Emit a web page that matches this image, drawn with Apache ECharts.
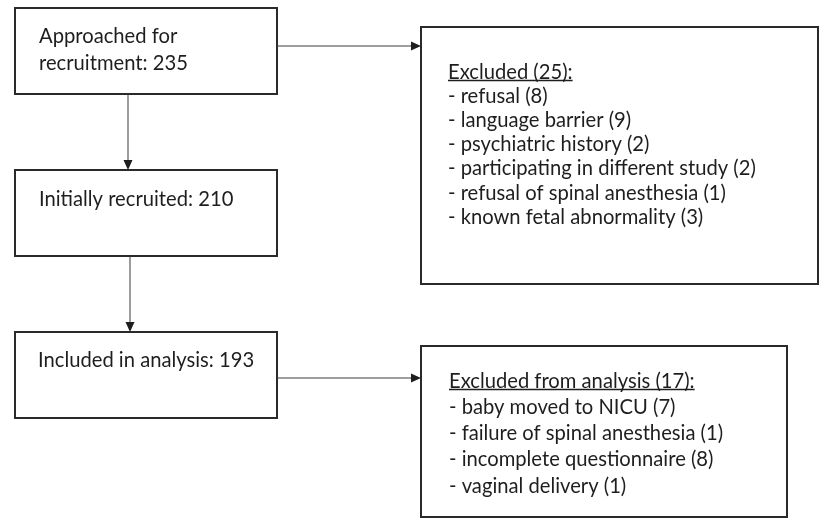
<!DOCTYPE html>
<html>
<head>
<meta charset="utf-8">
<script src="https://cdn.jsdelivr.net/npm/echarts@6/dist/echarts.min.js"></script>
<style>
  html, body { margin: 0; padding: 0; background: #fff; }
  #main { width: 819px; height: 519px; }
</style>
</head>
<body>
<div id="main"></div>
<script>
// flow stages and their counts
const stageNames = ['Approached for\nrecruitment', 'Initially recruited', 'Included in analysis']
const stageCounts = [235, 210, 193]

// first exclusion box
const excludedTitle = 'Excluded'
const excludedReasons = ['refusal', 'language barrier', 'psychiatric history',
  'participating in different study', 'refusal of spinal anesthesia', 'known fetal abnormality']
const excludedCounts = [8, 9, 2, 2, 1, 3]

// second exclusion box
const analysisTitle = 'Excluded from analysis'
const analysisReasons = ['baby moved to NICU', 'failure of spinal anesthesia',
  'incomplete questionnaire', 'vaginal delivery']
const analysisCounts = [7, 1, 8, 1]

const sum = arr => arr.reduce((a, b) => a + b, 0)

const FONT_SIZE = 20.2
const FONT = FONT_SIZE + 'px Lato, "Open Sans", sans-serif'
const TEXT_COLOR = '#1e1e1e'
const LINE_COLOR = '#2a2a2a'

// text content of each box (first line underlined when title is set)
const boxText = [
  { lines: (stageNames[0] + ': ' + stageCounts[0]).split('\n') },
  { lines: [stageNames[1] + ': ' + stageCounts[1]] },
  { lines: [stageNames[2] + ': ' + stageCounts[2]] },
  { title: true, lines: [excludedTitle + ' (' + sum(excludedCounts) + '):']
      .concat(excludedReasons.map((r, i) => '- ' + r + ' (' + excludedCounts[i] + ')')) },
  { title: true, lines: [analysisTitle + ' (' + sum(analysisCounts) + '):']
      .concat(analysisReasons.map((r, i) => '- ' + r + ' (' + analysisCounts[i] + ')')) }
]

// layout in page pixels: rect = [left, top, right, bottom]
const boxLayout = [
  { rect: [15, 8, 277, 94], textX: 39, firstY: 36, lineGap: 27 },
  { rect: [15, 170, 277, 256], textX: 39, firstY: 199, lineGap: 27 },
  { rect: [15, 332, 277, 418], textX: 38, firstY: 360, lineGap: 27 },
  { rect: [421, 27, 818, 284], textX: 448, firstY: 72, lineGap: 24.2 },
  { rect: [421, 346, 787, 517], textX: 449, firstY: 381, lineGap: 26.3 }
]

// arrows: [x0, y0, x1, y1]
const arrowLayout = [
  [277, 46, 421, 46],
  [128, 94, 128, 170],
  [130, 256, 130, 332],
  [277, 378, 421, 378]
]

const measureCtx = document.createElement('canvas').getContext('2d')
measureCtx.font = FONT

const chartInstance = echarts.init(document.getElementById('main'))

function renderBox(params, api) {
  const b = boxLayout[params.dataIndex]
  const t = boxText[params.dataIndex]
  const p0 = api.coord([b.rect[0], b.rect[1]])
  const p1 = api.coord([b.rect[2], b.rect[3]])
  const children = [{
    type: 'rect',
    shape: { x: p0[0], y: p0[1], width: p1[0] - p0[0], height: p1[1] - p0[1] },
    style: { fill: '#fff', stroke: LINE_COLOR, lineWidth: 2 }
  }]
  t.lines.forEach((line, i) => {
    const pt = api.coord([b.textX, b.firstY + i * b.lineGap])
    children.push({
      type: 'text',
      x: pt[0],
      y: pt[1],
      style: { text: line, font: FONT, fill: TEXT_COLOR, align: 'left', verticalAlign: 'middle' }
    })
    if (t.title && i === 0) {
      const w = measureCtx.measureText(line).width
      children.push({
        type: 'line',
        shape: { x1: pt[0], y1: pt[1] + 8.5, x2: pt[0] + w, y2: pt[1] + 8.5 },
        style: { stroke: TEXT_COLOR, lineWidth: 1.3 }
      })
    }
  })
  return { type: 'group', children: children }
}

function renderArrow(params, api) {
  const a = arrowLayout[params.dataIndex]
  const s = api.coord([a[0], a[1]])
  const e = api.coord([a[2], a[3]])
  const dx = e[0] - s[0]
  const dy = e[1] - s[1]
  const len = Math.sqrt(dx * dx + dy * dy)
  const ux = dx / len
  const uy = dy / len
  const headLen = 10
  const headHalf = 4.5
  const bx = e[0] - ux * headLen
  const by = e[1] - uy * headLen
  return {
    type: 'group',
    children: [
      {
        type: 'line',
        shape: { x1: s[0], y1: s[1], x2: bx, y2: by },
        style: { stroke: '#3a3a3a', lineWidth: 1 }
      },
      {
        type: 'polygon',
        shape: { points: [[e[0], e[1]], [bx - uy * headHalf, by + ux * headHalf], [bx + uy * headHalf, by - ux * headHalf]] },
        style: { fill: '#1e1e1e' }
      }
    ]
  }
}

chartInstance.setOption({
  animation: false,
  backgroundColor: '#fff',
  grid: { left: 0, right: 0, top: 0, bottom: 0 },
  xAxis: { type: 'value', min: 0, max: 819, show: false },
  yAxis: { type: 'value', min: 0, max: 519, inverse: true, show: false },
  series: [
    {
      type: 'custom',
      name: 'boxes',
      clip: false,
      renderItem: renderBox,
      data: boxText.map((b, i) => [i])
    },
    {
      type: 'custom',
      name: 'arrows',
      clip: false,
      renderItem: renderArrow,
      data: arrowLayout.map((a, i) => [i])
    }
  ]
})
</script>
</body>
</html>
